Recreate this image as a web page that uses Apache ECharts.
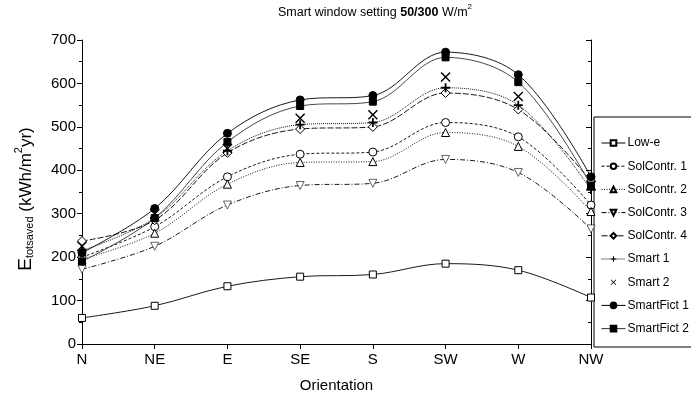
<!DOCTYPE html>
<html><head><meta charset="utf-8">
<script src="https://cdn.jsdelivr.net/npm/echarts@6/dist/echarts.min.js"></script>
<style>html,body{margin:0;padding:0;background:#fff}#c{width:691px;height:404px}</style>
</head><body><div id="c"></div>
<script>
const categories = ['N','NE','E','SE','S','SW','W','NW'];
const lowE       = [60, 88, 133, 155, 160, 185, 170, 107];
const solContr1  = [200, 270, 385, 437, 442, 510, 477, 320];
const solContr2  = [195, 255, 368, 418, 420, 487, 455, 305];
const solContr3  = [172, 225, 320, 365, 370, 425, 395, 265];
const solContr4  = [237, 285, 440, 495, 500, 578, 540, 375];
const smart1     = [215, 290, 445, 505, 510, 590, 550, 355];
const smart2     = [225, 300, 450, 520, 528, 615, 570, 365];
const smartFict1 = [210, 312, 485, 562, 572, 672, 620, 385];
const smartFict2 = [190, 290, 465, 548, 558, 660, 603, 365];
const yTicks = [0,100,200,300,400,500,600,700];

const chart = echarts.init(document.getElementById('c'), null, {renderer:'canvas'});
const F = 'Liberation Sans, Arial, sans-serif';
function ser(name, data, symbol, fill, lineType, size, noLine, lineColor){
  return {name, type:'line', data, smooth:0.35, symbol, symbolSize:size||7,
    itemStyle:{color:fill, borderColor:'#000', borderWidth:1},
    lineStyle: noLine ? {width:0, opacity:0} : {color:lineColor||'#000', width:0.9, type:lineType},
    emphasis:{disabled:true}, z: 3};
}
const series = [
  ser('Low-e', lowE, 'rect', '#fff', 'solid', 7),
  ser('SolContr. 1', solContr1, 'circle', '#fff', [3,2], 8),
  ser('SolContr. 2', solContr2, 'triangle', '#fff', [1,1.5], 8),
  ser('SolContr. 3', solContr3, 'path://M0,0 L10,0 L5,9 Z', '#fff', [5,2,1,2], 8),
  ser('SolContr. 4', solContr4, 'diamond', '#fff', [6,2], 9),
  ser('Smart 1', smart1, 'path://M4,0 L6,0 L6,4 L10,4 L10,6 L6,6 L6,10 L4,10 L4,6 L0,6 L0,4 L4,4 Z', '#000', [1,1], 9),
  ser('Smart 2', smart2, 'path://M0,1 L1,0 L5,4 L9,0 L10,1 L6,5 L10,9 L9,10 L5,6 L1,10 L0,9 L4,5 Z', '#000', 'solid', 10, true),
  ser('SmartFict 1', smartFict1, 'circle', '#000', 'solid', 8),
  ser('SmartFict 2', smartFict2, 'rect', '#000', 'solid', 7, false, '#333'),
];
series.forEach(s=>{ if(s.symbol.startsWith('path')) s.itemStyle.borderWidth = 0.6; });
series[5].itemStyle.borderWidth = 0; series[6].itemStyle.borderWidth = 0;

chart.setOption({
  animation:false,
  backgroundColor:'#fff',
  title:{text:'{n|Smart window setting }{b|50/300}{n| W/m}{s|2}', left:370, top:-2, textAlign:'center',
    textStyle:{fontWeight:'normal', rich:{n:{fontFamily:F,fontSize:12.5,fontWeight:'normal',color:'#000',verticalAlign:'bottom',lineHeight:16},
      b:{fontFamily:F,fontSize:12.5,fontWeight:'bold',color:'#000',verticalAlign:'bottom',lineHeight:16},
      s:{fontFamily:F,fontSize:8,fontWeight:'normal',color:'#000',verticalAlign:'top',lineHeight:16}}}},
  legend:{orient:'vertical', left:596, top:132, itemGap:11.2, itemWidth:24, itemHeight:7,
    lineStyle:{width:1},
    textStyle:{fontFamily:F,fontSize:12,color:'#000', padding:[0,0,0,-3]}, data:series.map(s=>s.name),
    selectedMode:false},
  grid:{left:82, right:100, top:40, bottom:60},
  xAxis:[{type:'category', data:categories, boundaryGap:false,
    axisLine:{lineStyle:{color:'#000',width:1}},
    axisTick:{alignWithLabel:true, length:5, lineStyle:{color:'#000'}},
    axisLabel:{fontFamily:F,fontSize:15,color:'#000',margin:8},
    name:'Orientation', nameLocation:'middle', nameGap:34, nameTextStyle:{fontFamily:F,fontSize:15,color:'#000'}},
    {type:'category', data:categories, boundaryGap:false, position:'top',
    axisLine:{lineStyle:{color:'#000',width:1}}, axisTick:{inside:true,length:5,lineStyle:{color:'#000'}}, axisLabel:{show:false}}],
  yAxis:[{type:'value', min:0, max:700, interval:100,
    axisLine:{show:true, lineStyle:{color:'#000',width:1}},
    axisTick:{show:true, length:5, lineStyle:{color:'#000'}},
    minorTick:{show:true, splitNumber:2, length:3, lineStyle:{color:'#000'}},
    splitLine:{show:false},
    axisLabel:{fontFamily:F,fontSize:15,color:'#000',margin:6, formatter:v=>yTicks.includes(v)?String(v):''},
    name:'{e|E}{sub|totsaved}{n| (kWh/m}{sup|2}{n|yr)}', nameLocation:'middle', nameGap:47, nameRotate:90,
    nameTextStyle:{padding:[0,0,0,-14], rich:{e:{fontFamily:F,fontSize:19,color:'#000',verticalAlign:'bottom',lineHeight:22},
      sub:{fontFamily:F,fontSize:11,color:'#000',verticalAlign:'bottom',lineHeight:18},
      n:{fontFamily:F,fontSize:17,color:'#000',verticalAlign:'bottom',lineHeight:22},
      sup:{fontFamily:F,fontSize:11,color:'#000',verticalAlign:'top',lineHeight:22}}}},
    {type:'value', min:0, max:700, interval:100, position:'right',
    axisLine:{show:true, lineStyle:{color:'#000',width:1}},
    axisTick:{show:true, inside:true, length:5, lineStyle:{color:'#000'}},
    minorTick:{show:true, splitNumber:2, length:3, lineStyle:{color:'#000'}},
    splitLine:{show:false}, axisLabel:{show:false}}],
  graphic:[{type:'rect', shape:{x:594, y:117, width:100, height:230}, style:{fill:'none', stroke:'#000', lineWidth:1}, z:1}],
  series
});
</script></body></html>
